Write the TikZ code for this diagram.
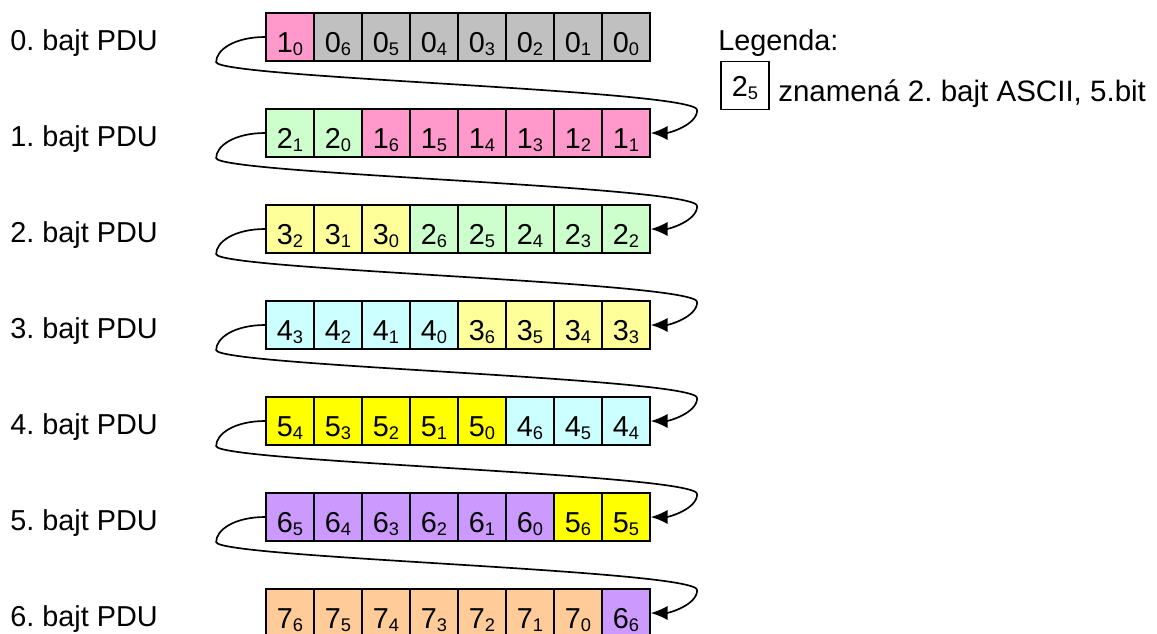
\documentclass[tikz,border=0pt]{standalone}
\usepackage{fontspec}
\setmainfont{Liberation Sans}
\usetikzlibrary{arrows.meta}
\frenchspacing

\definecolor{byte0}{HTML}{C0C0C0}
\definecolor{byte1}{HTML}{FF99CC}
\definecolor{byte2}{HTML}{CCFFCC}
\definecolor{byte3}{HTML}{FFFF99}
\definecolor{byte4}{HTML}{CCFFFF}
\definecolor{byte5}{HTML}{FFFF00}
\definecolor{byte6}{HTML}{CC99FF}
\definecolor{byte7}{HTML}{FFCC99}

% number of the ASCII byte with the number of its bit
\newcommand*{\bitlab}[2]{#1\raisebox{-0.09cm}{\fontsize{13}{13}\selectfont #2}}

\begin{document}
\begin{tikzpicture}
[
	x=0.025cm,y=-0.025cm,
	every node/.style={font=\fontsize{20.5}{24}\selectfont},
	bitbox/.style={draw,line width=1.2pt,inner sep=0pt,minimum size=1.2cm,text height=0.75cm,text depth=0pt},
	legbox/.style={draw,line width=1pt,inner sep=0pt,minimum size=1.2cm,text height=0.53cm,text depth=0pt},
	rowlabel/.style={anchor=base west,inner sep=0pt},
	link/.style={line width=1.2pt,-{Latex[length=0.42cm,width=0.36cm]}}
]

	\useasboundingbox (0,0) rectangle (1157,633);

	% rows of the PDU
	\foreach \r in {0,...,6} {
		\pgfmathtruncatemacro{\ry}{37+96*\r}
		\node[rowlabel] (l-\r) at (10,\ry+13) {\r. bajt PDU};
		\foreach \k in {0,...,7} {
			\pgfmathtruncatemacro{\byte}{\k<=\r ? \r+1 : \r}
			\pgfmathtruncatemacro{\bit}{\k<=\r ? \r-\k : 7+\r-\k}
			\node[bitbox,fill=byte\byte] (c-\r-\k) at (290+48*\k,\ry) {\bitlab{\byte}{\bit}};
		}
	}

	% wrap from one row to the next
	\foreach \r [evaluate=\r as \n using int(\r+1)] in {0,...,5} {
		\draw[link] (c-\r-0.west) .. controls +(-31,0) and +(0,-12) .. ++(-49,25)
			.. controls +(0,16) and +(0,-20) .. ++(481,48)
			.. controls +(0,15) and +(18,0) .. (c-\n-7.east);
	}

	% legend
	\node[rowlabel] (leg) at (718,50) {Legenda:};
	\node[legbox] (legbox) at (745,85.5) {\bitlab{2}{5}};
	\node[rowlabel,font=\fontsize{21}{24}\selectfont] (legtext) at (778,101) {znamená 2. bajt ASCII, 5.bit};

\end{tikzpicture}
\end{document}
